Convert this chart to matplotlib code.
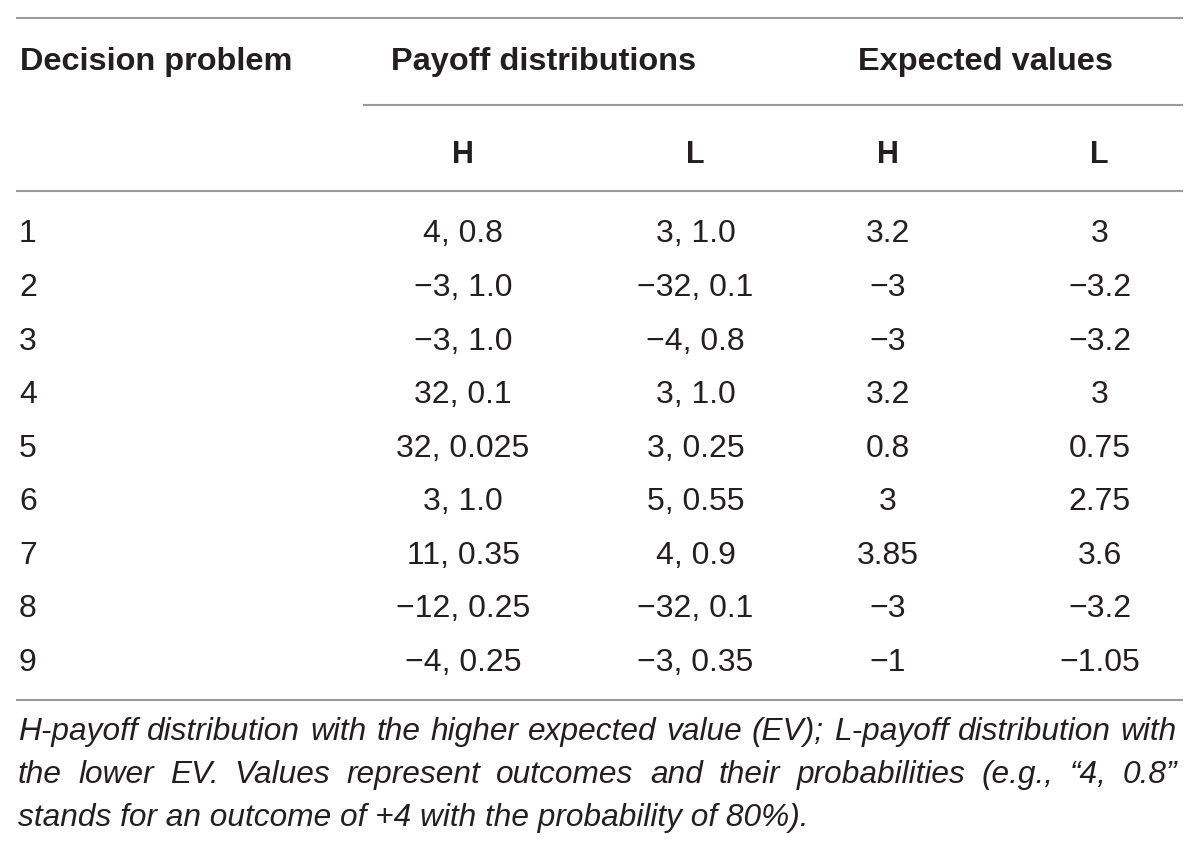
import matplotlib
matplotlib.use("Agg")
import matplotlib.pyplot as plt

# ---- data ----
problems = ["1", "2", "3", "4", "5", "6", "7", "8", "9"]
H_dist = ["4, 0.8", "−3, 1.0", "−3, 1.0", "32, 0.1", "32, 0.025", "3, 1.0", "11, 0.35", "−12, 0.25", "−4, 0.25"]
L_dist = ["3, 1.0", "−32, 0.1", "−4, 0.8", "3, 1.0", "3, 0.25", "5, 0.55", "4, 0.9", "−32, 0.1", "−3, 0.35"]
EV_H = ["3.2", "−3", "−3", "3.2", "0.8", "3", "3.85", "−3", "−1"]
EV_L = ["3", "−3.2", "−3.2", "3", "0.75", "2.75", "3.6", "−3.2", "−1.05"]
group_headers = ["Decision problem", "Payoff distributions", "Expected values"]
sub_headers = ["H", "L", "H", "L"]
footnote = [
    "H-payoff distribution with the higher expected value (EV); L-payoff distribution with",
    "the lower EV. Values represent outcomes and their probabilities (e.g., \u201c4, 0.8\u201d",
    "stands for an outcome of +4 with the probability of 80%).",
]

FONT = ["Liberation Sans", "DejaVu Sans"]
TXT = "#231f20"
LINE = "#9a9a9a"

fig = plt.figure(figsize=(12, 8.51), dpi=100)
ax = fig.add_axes([0, 0, 1, 1])
ax.set_xlim(0, 1200)
ax.set_ylim(851, 0)
ax.axis("off")

# rules
ax.plot([16, 1183], [17.5, 17.5], color=LINE, lw=1.5, solid_capstyle="butt")
ax.plot([363, 1183], [105, 105], color=LINE, lw=1.5, solid_capstyle="butt")
ax.plot([16, 1183], [190.7, 190.7], color=LINE, lw=1.5, solid_capstyle="butt")
ax.plot([16, 1183], [699.5, 699.5], color=LINE, lw=1.5, solid_capstyle="butt")

hs = 23.4
ss = 22.0
ds = 23.0
# group headers
ax.text(20, 70, group_headers[0], ha="left", va="baseline", fontsize=hs, fontweight="bold", family=FONT, color=TXT)
ax.text(544, 70, group_headers[1], ha="center", va="baseline", fontsize=hs, fontweight="bold", family=FONT, color=TXT)
ax.text(985, 70, group_headers[2], ha="center", va="baseline", fontsize=hs, fontweight="bold", family=FONT, color=TXT)

col_x = [463, 695.5, 888, 1099.5]
for x, s in zip(col_x, sub_headers):
    ax.text(x, 163, s, ha="center", va="baseline", fontsize=ss, fontweight="bold", family=FONT, color=TXT)

y0, dy = 242.5, 53.55
for i in range(len(problems)):
    y = y0 + i * dy
    ax.text(19, y, problems[i], ha="left", va="baseline", fontsize=ds, family=FONT, color=TXT)
    for x, col in zip(col_x, [H_dist, L_dist, EV_H, EV_L]):
        ax.text(x, y, col[i], ha="center", va="baseline", fontsize=ds, family=FONT, color=TXT)

# footnote (justified first two lines)
fs = 22.8
renderer = fig.canvas.get_renderer()
fy = [740, 783, 826]
left, right = 18, 1177
for li, line in enumerate(footnote):
    if li < 2:
        words = line.split(" ")
        arts = []
        widths = []
        for w in words:
            t = ax.text(0, fy[li], w, ha="left", va="baseline", fontsize=fs, style="italic", family=FONT, color=TXT)
            bb = t.get_window_extent(renderer=renderer)
            arts.append(t)
            widths.append(bb.width)
        gap = (right - left - sum(widths)) / (len(words) - 1)
        x = left
        for t, w in zip(arts, widths):
            t.set_x(x)
            x += w + gap
    else:
        ax.text(left, fy[li], line, ha="left", va="baseline", fontsize=fs, style="italic", family=FONT, color=TXT)

fig.savefig("out.png", dpi=100, facecolor="white")
